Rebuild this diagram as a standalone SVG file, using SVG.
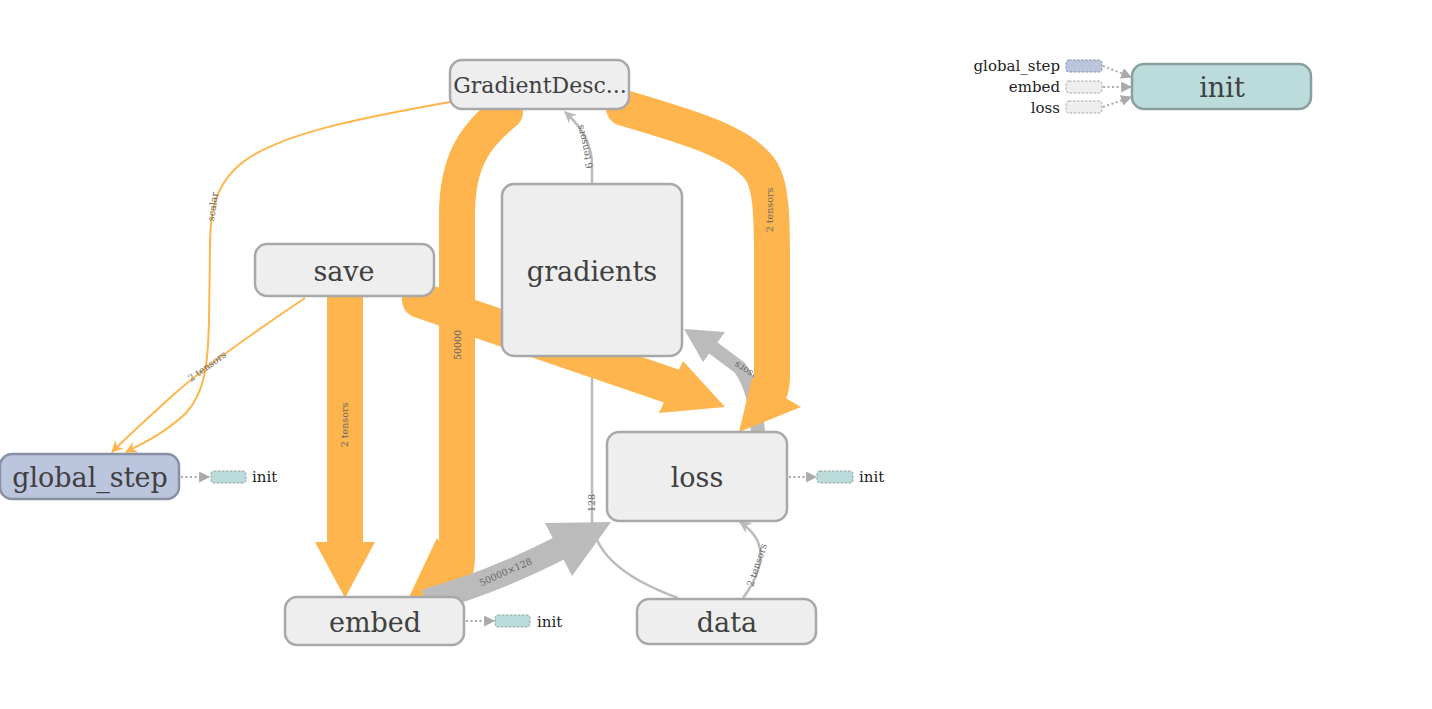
<svg xmlns="http://www.w3.org/2000/svg" width="1432" height="709" viewBox="0 0 1432 709">
<style>
.node rect{fill:#eeeeee;stroke:#a8a8a8;stroke-width:2.5}
.node text{font-family:"DejaVu Serif",serif;font-size:27px;fill:#404040;text-anchor:middle;dominant-baseline:central}
.gs rect{fill:#bbc5dd;stroke:#8891a3}
.ini rect{fill:#bcdcdb;stroke:#899f9e}
.node rect.mini{stroke-width:1;stroke-dasharray:2.5 1.5}
.orange{fill:none;stroke:#ffb54d}
.gray{fill:none;stroke:#bbbbbb}
.ohead{fill:#ffb54d}
.ghead{fill:#bbbbbb}
.elabel{font-family:"DejaVu Serif",serif;font-size:9.5px;fill:#666666;text-anchor:middle}
.dot{fill:none;stroke:#aaaaaa;stroke-width:2;stroke-dasharray:2 2.5}
.small{font-family:"DejaVu Serif",serif;font-size:15px;fill:#222222}
</style>
<defs>
<marker id="aOrange" viewBox="0 0 10 10" refX="9" refY="5" markerUnits="userSpaceOnUse" markerWidth="12" markerHeight="12" orient="auto"><path d="M0,0 L10,5 L0,10 L3,5 z" fill="#ffb54d"/></marker>
<marker id="aGray" viewBox="0 0 10 10" refX="9" refY="5" markerUnits="userSpaceOnUse" markerWidth="12" markerHeight="12" orient="auto"><path d="M0,0 L10,5 L0,10 L3,5 z" fill="#bbbbbb"/></marker>
<marker id="aDot" viewBox="0 0 10 10" refX="9" refY="5" markerUnits="userSpaceOnUse" markerWidth="11" markerHeight="11" orient="auto"><path d="M0,0 L10,5 L0,10 z" fill="#aaaaaa"/></marker>
</defs>

<g id="connectors">
  <!-- thin orange -->
  <path class="orange" stroke-width="2" d="M450,102 C360,118 270,135 236,168 C213,190 210,215 210,250 L209,320 C208,365 205,392 186,413 C166,432 146,442 126,452" marker-end="url(#aOrange)"/>
  <path class="orange" stroke-width="2" d="M305,298 C250,335 203,368 172,396 C150,416 130,434 112,452" marker-end="url(#aOrange)"/>
  <text class="elabel" transform="translate(216,207) rotate(-82)">scalar</text>
  <text class="elabel" transform="translate(209,369) rotate(-36)">2 tensors</text>

  <!-- gray data -> gradients -->
  <path class="gray" stroke-width="2.5" d="M592,358 L592,520 C594,548 615,575 678,598"/>
  <text class="elabel" transform="translate(595,503) rotate(-90)">128</text>

  <!-- gray loss -> gradients -->
  <path class="gray" stroke-width="14" d="M758,432 C756,405 752,385 740,368 L712,347"/>
  <polygon class="ghead" points="684,329 725,332 703,362"/>
  <text class="elabel" style="text-anchor:end" transform="translate(737,361) rotate(213)">2 tensors</text>

  <!-- thick orange -->
  <path class="orange" stroke-width="36" d="M345,297 L345,545"/>
  <polygon class="ohead" points="315,542 375,542 345,598"/>
  <path class="orange" stroke-width="36" stroke-linecap="round" d="M420,300 L680,389"/>
  <polygon class="ohead" points="683,361 725,407 659,413"/>
  <path class="orange" stroke-width="36" stroke-linecap="round" d="M505,112 C476,135 457,160 457,215 L457,555 C457,573 452,583 440,589"/>
  <polygon class="ohead" points="437,538 409,597 468,592"/>
  <path class="orange" stroke-width="36" stroke-linecap="round" d="M624,108 C700,130 745,145 762,172 C771,188 772,215 772,260 L772,378 C772,388 770,392 767,396"/>
  <polygon class="ohead" points="752,378 801,407 739,432"/>
  <text class="elabel" transform="translate(773,210) rotate(-90)">2 tensors</text>
  <text class="elabel" transform="translate(461,345) rotate(-90)">50000</text>
  <text class="elabel" transform="translate(348,425) rotate(-90)">2 tensors</text>

  <!-- gray embed -> loss -->
  <path class="gray" stroke-width="24" d="M425,601 C470,589 515,571 562,547"/>
  <polygon class="ghead" points="545,523 611,522 572,576"/>
  <text class="elabel" transform="translate(507,575) rotate(-24)">50000×128</text>

  <!-- gray thin -->
  <path class="gray" stroke-width="2.5" d="M592,184 L592,165 C592,145 583,128 565,112" marker-end="url(#aGray)"/>
  <text class="elabel" transform="translate(588,146) rotate(-103)">6 tensors</text>
  <path class="gray" stroke-width="2.5" d="M743,598 C758,578 766,555 756,538 C751,530 746,526 740,522" marker-end="url(#aGray)"/>
  <text class="elabel" transform="translate(760,566) rotate(-72)">2 tensors</text>

  <!-- dotted control edges -->
  <path class="dot" d="M181,477 L209,477" marker-end="url(#aDot)"/>
  <path class="dot" d="M789,477 L816,477" marker-end="url(#aDot)"/>
  <path class="dot" d="M466,621 L494,621" marker-end="url(#aDot)"/>
  <path class="dot" d="M1103,66 L1131,77" marker-end="url(#aDot)"/>
  <path class="dot" d="M1103,87 L1131,87" marker-end="url(#aDot)"/>
  <path class="dot" d="M1103,107 L1131,97" marker-end="url(#aDot)"/>
</g>

<g id="node-GradientDescent" class="node"><rect x="450" y="60" width="179" height="49" rx="12"/><text x="540" y="85" style="font-size:22px">GradientDesc...</text></g>
<g id="node-save" class="node"><rect x="255" y="244" width="179" height="52" rx="12"/><text x="344" y="271">save</text></g>
<g id="node-gradients" class="node"><rect x="502" y="184" width="180" height="172" rx="12"/><text x="592" y="271">gradients</text></g>
<g id="node-loss" class="node"><rect x="607" y="432" width="180" height="89" rx="12"/><text x="697" y="477">loss</text></g>
<g id="node-global_step" class="node gs"><rect x="0" y="454" width="179" height="45" rx="12"/><text x="90" y="477">global_step</text></g>
<g id="node-embed" class="node"><rect x="285" y="597" width="179" height="48" rx="12"/><text x="375" y="622">embed</text></g>
<g id="node-data" class="node"><rect x="637" y="599" width="179" height="45" rx="12"/><text x="727" y="622">data</text></g>
<g id="node-init" class="node ini"><rect x="1132" y="64" width="179" height="45" rx="12"/><text x="1222" y="87">init</text></g>

<g id="aux-global_step-init" class="node ini"><rect class="mini" x="211" y="471" width="35" height="12" rx="3"/><text x="252" y="482" style="font-size:15px;text-anchor:start;dominant-baseline:auto;fill:#222">init</text></g>
<g id="aux-loss-init" class="node ini"><rect class="mini" x="817" y="471" width="36" height="12" rx="3"/><text x="859" y="482" style="font-size:15px;text-anchor:start;dominant-baseline:auto;fill:#222">init</text></g>
<g id="aux-embed-init" class="node ini"><rect class="mini" x="495" y="615" width="35" height="12" rx="3"/><text x="537" y="627" style="font-size:15px;text-anchor:start;dominant-baseline:auto;fill:#222">init</text></g>

<g id="aux-init-inputs">
  <g class="node gs"><rect class="mini" x="1066" y="60" width="36" height="12" rx="3"/></g>
  <g class="node"><rect class="mini" x="1066" y="81" width="36" height="12" rx="3"/></g>
  <g class="node"><rect class="mini" x="1066" y="101" width="36" height="12" rx="3"/></g>
  <text class="small" x="1060" y="71" text-anchor="end">global_step</text>
  <text class="small" x="1060" y="92" text-anchor="end">embed</text>
  <text class="small" x="1060" y="113" text-anchor="end">loss</text>
</g>
</svg>
